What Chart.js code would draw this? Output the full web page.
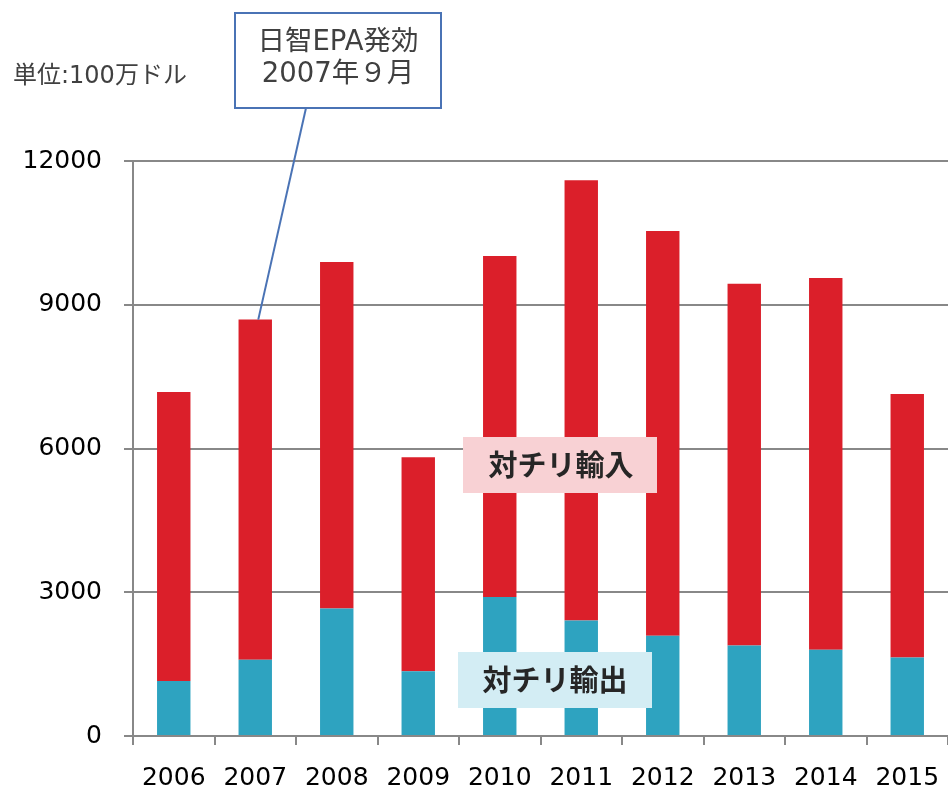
<!DOCTYPE html>
<html lang="ja">
<head>
<meta charset="utf-8">
<title>対チリ輸出入</title>
<script src="https://cdn.jsdelivr.net/npm/chart.js@4/dist/chart.umd.min.js"></script>
<style>
    html, body { margin: 0; padding: 0; background: #ffffff; }
    #wrap { position: relative; width: 948px; height: 788px; }
</style>
</head>
<body>
<div id="wrap"><canvas id="chart"></canvas></div>
<script>
// years on the x axis
const years = ['2006', '2007', '2008', '2009', '2010', '2011', '2012', '2013', '2014', '2015'];
// exports to Chile (bottom, blue) - million USD
const exportsChile = [1150, 1590, 2660, 1350, 2900, 2410, 2090, 1890, 1800, 1640];
// imports from Chile (stacked on top, red)
const importsChile = [6030, 7100, 7230, 4470, 7120, 9190, 8450, 7550, 7760, 5500];
// y axis ticks
const yTicks = [0, 3000, 6000, 9000, 12000];

const unitLabel = '単位:100万ドル';
const epaLines = ['日智EPA発効', '2007年９月'];
const epaYearIndex = 1; // 2007
const importLabel = '対チリ輸入';
const exportLabel = '対チリ輸出';

// DejaVu first so latin/digits come out wide, CJK falls through to Noto
const JP_FONT = '"DejaVu Sans", "Noto Sans CJK JP", sans-serif';
const NUM_FONT = '"DejaVu Sans", "Noto Sans", sans-serif';

// labels, callout box and leader line drawn on top of the bars
const overlayPlugin = {
    id: 'overlay',
    afterDatasetsDraw(chart) {
        const ctx = chart.ctx;
        const x = chart.scales.x;
        const y = chart.scales.y;
        ctx.save();

        // unit text
        ctx.fillStyle = '#404040';
        ctx.font = '24px ' + JP_FONT;
        ctx.textAlign = 'left';
        ctx.textBaseline = 'middle';
        ctx.fillText(unitLabel, 13, 77);

        // leader line to the 2007 bar top
        const total = exportsChile[epaYearIndex] + importsChile[epaYearIndex];
        const endX = x.getPixelForValue(epaYearIndex) + 3;
        const endY = y.getPixelForValue(total);
        ctx.strokeStyle = '#4a73b5';
        ctx.lineWidth = 2;
        ctx.beginPath();
        ctx.moveTo(306, 108);
        ctx.lineTo(endX, endY);
        ctx.stroke();

        // EPA callout box
        ctx.fillStyle = '#ffffff';
        ctx.fillRect(235, 13, 206, 95);
        ctx.strokeRect(235, 13, 206, 95);
        ctx.fillStyle = '#404040';
        ctx.font = '27.5px ' + JP_FONT;
        ctx.textAlign = 'center';
        ctx.fillText(epaLines[0], 338, 43);
        ctx.fillText(epaLines[1], 338, 75);

        // series labels
        ctx.fillStyle = '#f8d1d4';
        ctx.fillRect(463, 437, 194, 56);
        ctx.fillStyle = '#d3edf4';
        ctx.fillRect(458, 652, 194, 56);
        ctx.fillStyle = '#262626';
        ctx.font = 'bold 29px "Noto Sans CJK JP", sans-serif';
        ctx.fillText(importLabel, 561, 465);
        ctx.fillText(exportLabel, 555, 680);

        ctx.restore();
    }
};

const chart = new Chart(document.getElementById('chart'), {
    type: 'bar',
    data: {
        labels: years,
        datasets: [
            {
                label: exportLabel,
                data: exportsChile,
                backgroundColor: '#2ea3c0',
                categoryPercentage: 1,
                barPercentage: 0.41
            },
            {
                label: importLabel,
                data: importsChile,
                backgroundColor: '#db1f2a',
                categoryPercentage: 1,
                barPercentage: 0.41
            }
        ]
    },
    options: {
        responsive: true,
        maintainAspectRatio: false,
        animation: false,
        layout: { padding: { top: 161, right: 0, left: 0, bottom: 0 } },
        plugins: {
            legend: { display: false },
            tooltip: { enabled: false }
        },
        scales: {
            x: {
                stacked: true,
                offset: true,
                grid: {
                    offset: true,
                    drawOnChartArea: false,
                    color: '#888888',
                    lineWidth: 2,
                    tickLength: 9
                },
                border: { color: '#888888', width: 2 },
                ticks: {
                    color: '#000000',
                    padding: 18,
                    maxRotation: 0,
                    font: { family: NUM_FONT, size: 25 }
                },
                afterFit: (scale) => {
                    scale.height = 52;
                    // no label overhang padding, plot runs to the right edge
                    scale.paddingLeft = 0;
                    scale.paddingRight = 0;
                }
            },
            y: {
                stacked: true,
                min: 0,
                max: 12000,
                afterBuildTicks: (scale) => { scale.ticks = yTicks.map(v => ({ value: v })); },
                grid: {
                    color: '#888888',
                    lineWidth: 2,
                    tickLength: 9
                },
                border: { color: '#888888', width: 2 },
                ticks: {
                    color: '#000000',
                    padding: 22,
                    font: { family: NUM_FONT, size: 25 },
                    callback: (value) => String(value)
                },
                afterFit: (scale) => { scale.width = 133; }
            }
        }
    },
    plugins: [overlayPlugin]
});
</script>
</body>
</html>
